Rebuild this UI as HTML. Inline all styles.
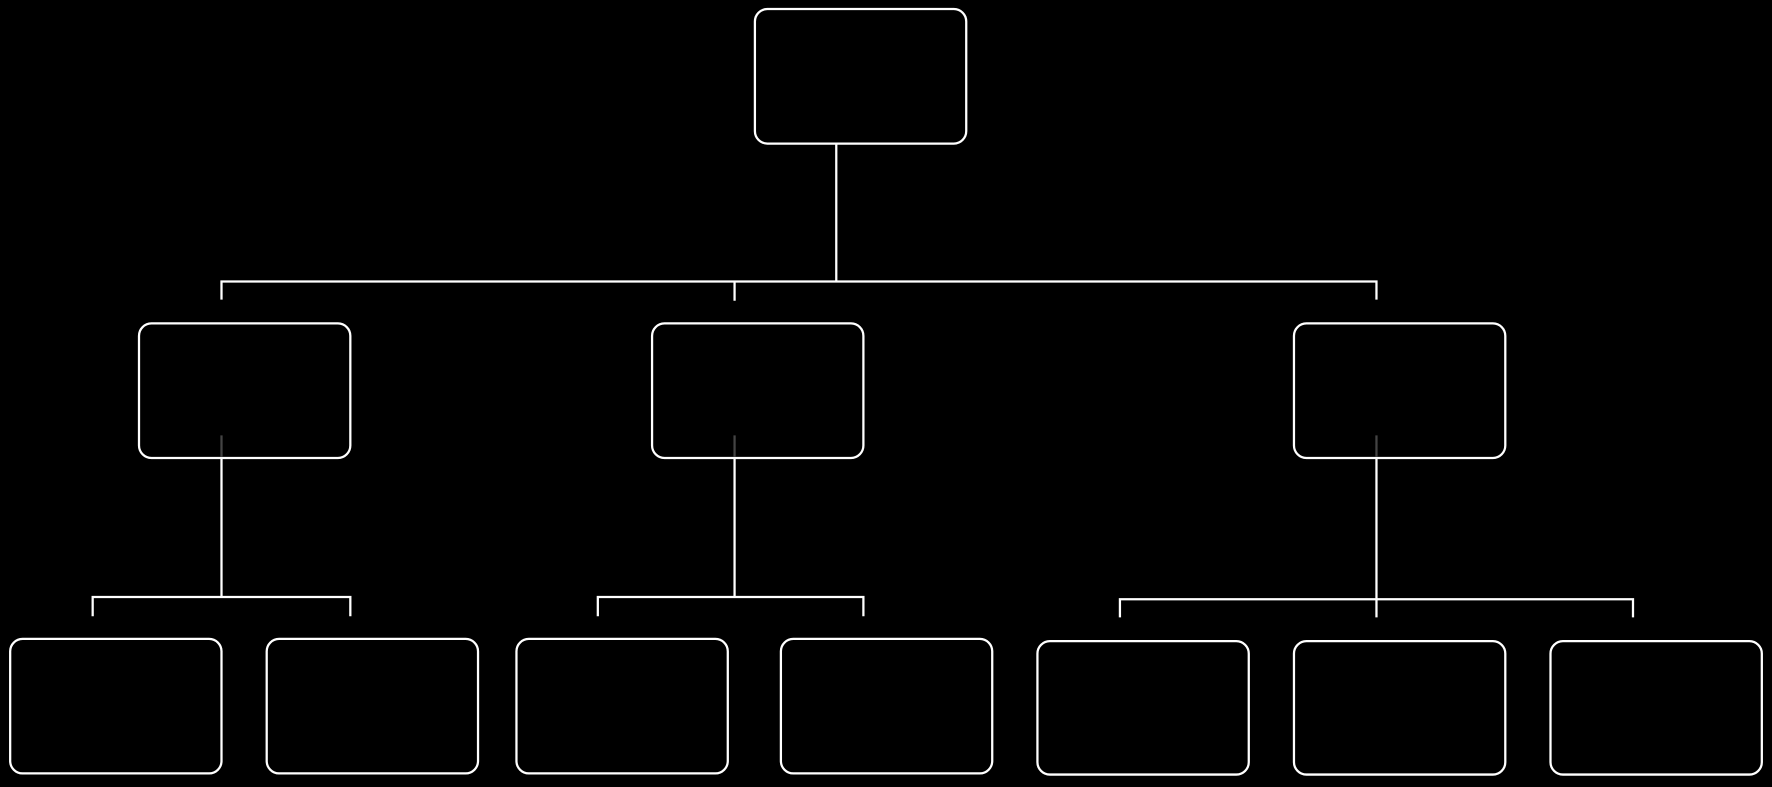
<!DOCTYPE html>
<html><head><meta charset="utf-8"><style>
html,body{margin:0;padding:0;background:#000;width:1772px;height:787px;overflow:hidden}
svg{display:block}
</style></head><body>
<svg width="1772" height="787" viewBox="0 0 1568 696" preserveAspectRatio="none">
<rect width="1568" height="696" fill="#000"/>
<g fill="none" stroke="#fff" stroke-width="2">
<rect x="668" y="8" width="187" height="119" rx="11"/>
<rect x="123" y="286" width="187" height="119" rx="11"/>
<rect x="577" y="286" width="187" height="119" rx="11"/>
<rect x="1145" y="286" width="187" height="119" rx="11"/>
<rect x="9" y="565" width="187" height="119" rx="11"/>
<rect x="236" y="565" width="187" height="119" rx="11"/>
<rect x="457" y="565" width="187" height="119" rx="11"/>
<rect x="691" y="565" width="187" height="119" rx="11"/>
<rect x="918" y="567" width="187" height="118" rx="11"/>
<rect x="1145" y="567" width="187" height="118" rx="11"/>
<rect x="1372" y="567" width="187" height="118" rx="11"/>
<path d="M740 127V249M196 265V249H1218V265M650 249V266"/>
<path d="M196 405V528M82 545V528H310V545"/>
<path d="M650 405V528M529 545V528H764V545"/>
<path d="M1218 405V546M991 546V530H1445V546"/>
</g>
<g stroke="#444" stroke-width="2">
<path d="M196 385V404M650 385V404M1218 385V404"/>
</g>
</svg>
</body></html>
